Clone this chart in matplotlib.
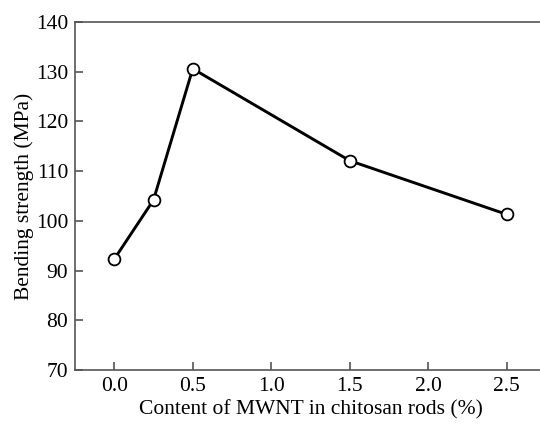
#Bending strength vs MWNT content in chitosan rods
import matplotlib
matplotlib.use("Agg")
import matplotlib.pyplot as plt

plt.rcParams['font.family'] = ['Liberation Serif', 'DejaVu Serif']

#values
mwnt_content = [0.0, 0.25, 0.5, 1.5, 2.5]
bending_strength = [92.3, 104.2, 130.6, 112.1, 101.3]
xticks = [0.0, 0.5, 1.0, 1.5, 2.0, 2.5]
yticks = [70, 80, 90, 100, 110, 120, 130, 140]

fig = plt.figure(figsize=(5.4, 4.24), dpi=100)
#right edge sits just past the figure, as in the cropped original
ax = fig.add_axes([75/540, 54/424, 471/540, 348/424])

ax.plot(mwnt_content, bending_strength, color='black', linewidth=2.1,
        marker='o', markersize=8.5, markerfacecolor='white',
        markeredgecolor='black', markeredgewidth=1.3)

ax.set_xlim(-0.25, 2.75)
ax.set_ylim(70, 140)
ax.set_xticks(xticks)
ax.set_xticklabels(["%.1f" % t for t in xticks])
ax.set_yticks(yticks)

for s in ax.spines.values():
    s.set_color('#555555')
    s.set_linewidth(1.2)
ax.tick_params(direction='in', length=6, width=1.2, color='#555555',
               labelsize=15.5, pad=5)

ax.set_xlabel("Content of MWNT in chitosan rods (%)", fontsize=15.5, labelpad=3)
ax.set_ylabel("Bending strength (MPa)", fontsize=15.5, labelpad=1)

fig.savefig("out.png", dpi=100)
